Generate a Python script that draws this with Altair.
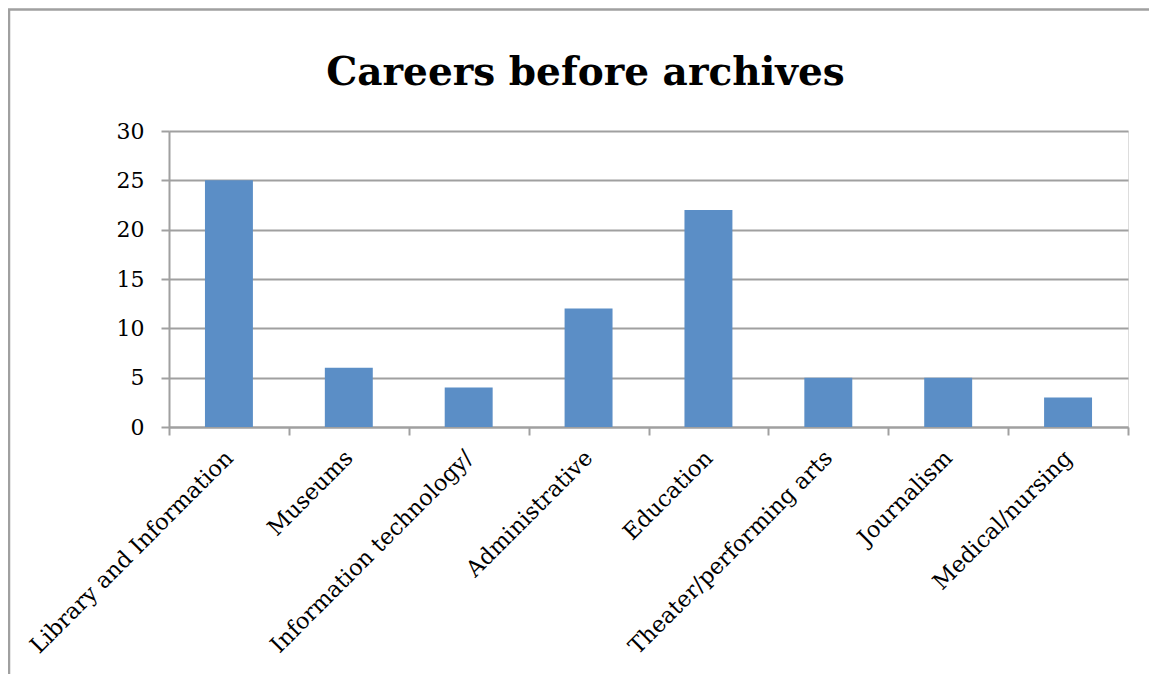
import altair as alt
import pandas as pd

categories = ["Library and Information", "Museums", "Information technology/",
              "Administrative", "Education", "Theater/performing arts",
              "Journalism", "Medical/nursing"]
values = [25, 6, 4, 12, 22, 5, 5, 3]
y_ticks = [0, 5, 10, 15, 20, 25, 30]

df = pd.DataFrame({"career": categories, "count": values})

FONT = "DejaVu Serif"
GRAY = "#a0a0a0"

bars = alt.Chart(df).mark_bar(color="#5B8EC6", width=alt.RelativeBandSize(0.4)).encode(
    x=alt.X("career:N", sort=categories,
            scale=alt.Scale(paddingInner=0, paddingOuter=0),
            axis=alt.Axis(title=None, labelAngle=-45, labelAlign="right",
                          labelBaseline="middle", labelPadding=19, labelLimit=0,
                          tickBand="extent", tickSize=8, tickWidth=2,
                          tickColor=GRAY, domainColor=GRAY, domainWidth=2,
                          labelFont=FONT, labelFontSize=22.5, labelColor="#000000",
                          grid=False)),
    y=alt.Y("count:Q", scale=alt.Scale(domain=[0, 30], nice=False),
            axis=alt.Axis(title=None, values=y_ticks, tickSize=8, tickWidth=2,
                          tickColor=GRAY, domainColor=GRAY, domainWidth=2,
                          gridColor=GRAY, gridWidth=2, labelPadding=17,
                          labelFont=FONT, labelFontSize=22, labelColor="#000000")),
)

frame = alt.Chart(pd.DataFrame({"a": [0]})).mark_rect(
    fill=None, stroke=GRAY, strokeWidth=2.5, clip=False
).encode(
    x=alt.value(-160), x2=alt.value(1400),
    y=alt.value(-121.5), y2=alt.value(1000),
)

chart = alt.layer(bars, frame).properties(
    width=959, height=296,
    autosize=alt.AutoSizeParams(type="none"),
    padding={"left": 161, "top": 123, "right": 21, "bottom": 247},
    title=alt.TitleParams("Careers before archives", font=FONT, fontSize=39,
                          fontWeight="bold", color="#000000", anchor="middle",
                          baseline="alphabetic", offset=-116, dx=-63, frame="group"),
).configure_view(stroke=None).configure(background="white")

chart.save("out.html", embed_options={"renderer": "svg", "actions": False})
